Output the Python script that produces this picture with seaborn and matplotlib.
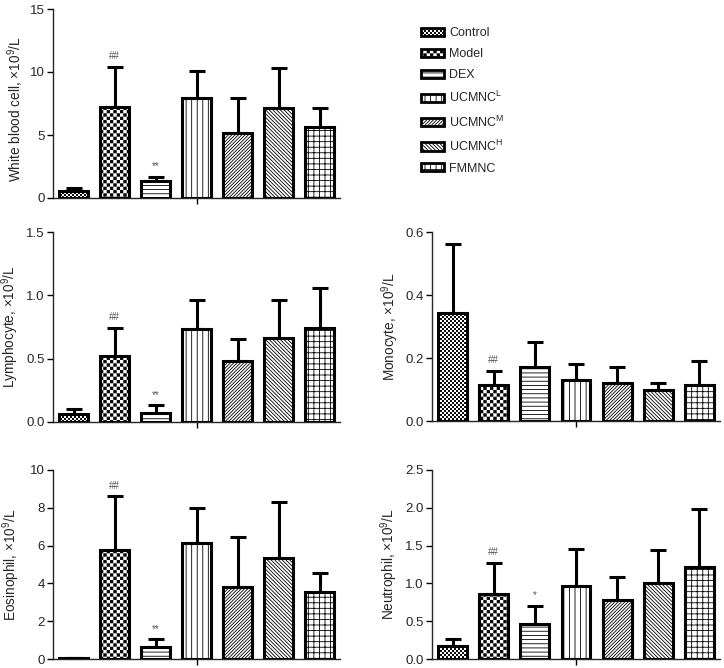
import numpy as np
import pandas as pd
import matplotlib
matplotlib.use("Agg")
import matplotlib.pyplot as plt
import matplotlib.hatch as mhatch
import matplotlib.patches as mpatches
from matplotlib.path import Path
import seaborn as sns
import warnings
warnings.filterwarnings("ignore")

# ---------------- data ----------------
groups = ["Control", "Model", "DEX", "UCMNC-L", "UCMNC-M", "UCMNC-H", "FMMNC"]
legend_labels = ["Control", "Model", "DEX", r"UCMNC$^{\mathrm{L}}$",
                 r"UCMNC$^{\mathrm{M}}$", r"UCMNC$^{\mathrm{H}}$", "FMMNC"]

wbc_mean = [0.58, 7.20, 1.32, 7.92, 5.15, 7.13, 5.62]
wbc_err = [0.21, 3.23, 0.34, 2.18, 2.82, 3.17, 1.54]
wbc_marks = ["", "##", "**", "", "", "", ""]

lym_mean = [0.060, 0.525, 0.074, 0.737, 0.480, 0.665, 0.742]
lym_err = [0.045, 0.217, 0.058, 0.227, 0.175, 0.300, 0.317]
lym_marks = ["", "##", "**", "", "", "", ""]

mono_mean = [0.342, 0.113, 0.172, 0.131, 0.120, 0.100, 0.113]
mono_err = [0.220, 0.047, 0.080, 0.049, 0.052, 0.021, 0.078]
mono_marks = ["", "##", "", "", "", "", ""]

eos_mean = [0.03, 5.77, 0.65, 6.16, 3.83, 5.36, 3.56]
eos_err = [0.00, 2.85, 0.39, 1.84, 2.64, 2.94, 1.01]
eos_marks = ["", "##", "**", "", "", "", ""]

neu_mean = [0.168, 0.855, 0.459, 0.961, 0.776, 1.010, 1.221]
neu_err = [0.092, 0.415, 0.246, 0.499, 0.309, 0.436, 0.763]
neu_marks = ["", "##", "*", "", "", "", ""]

wbc_ticks = [0, 5, 10, 15]
lym_ticks = [0.0, 0.5, 1.0, 1.5]
mono_ticks = [0.0, 0.2, 0.4, 0.6]
eos_ticks = [0, 2, 4, 6, 8, 10]
neu_ticks = [0.0, 0.5, 1.0, 1.5, 2.0, 2.5]

# ---------------- custom checkerboard hatch ----------------
class CheckerHatch(mhatch.HatchPatternBase):
    def __init__(self, hatch, density):
        self.n = hatch.count("c") * 10
        self.cells = [(i, j) for i in range(self.n) for j in range(self.n)
                      if (i + j) % 2 == 0]
        self.num_vertices = len(self.cells) * 5

    def set_vertices_and_codes(self, vertices, codes):
        s = 1.0 / self.n
        inset = 0.0045
        k = 0
        for i, j in self.cells:
            x0, y0 = i * s + inset, j * s + inset
            x1, y1 = (i + 1) * s - inset, (j + 1) * s - inset
            vertices[k:k + 5] = [(x0, y0), (x1, y0), (x1, y1), (x0, y1), (x0, y0)]
            codes[k:k + 5] = [Path.MOVETO, Path.LINETO, Path.LINETO,
                              Path.LINETO, Path.CLOSEPOLY]
            k += 5

mhatch._hatch_types.append(CheckerHatch)
mhatch._validate_hatch_pattern = lambda hatch: None

hatches = ["ccccc", "ccc", "----", "|||", "/" * 10, "\\" * 9, "+++"]

# ---------------- style ----------------
sns.set_style("ticks")
plt.rcParams["font.family"] = ["Liberation Sans", "DejaVu Sans"]
plt.rcParams["mathtext.fontset"] = "custom"
plt.rcParams["mathtext.rm"] = "Liberation Sans"
plt.rcParams["mathtext.it"] = "Liberation Sans:italic"
plt.rcParams["hatch.linewidth"] = 0.6
plt.rcParams["axes.linewidth"] = 1.0

fig = plt.figure(figsize=(7.24, 6.68), dpi=100)

W, H = 724.0, 668.0
def axpos(x0, y0, x1, y1):
    return [x0 / W, 1 - y1 / H, (x1 - x0) / W, (y1 - y0) / H]

panels = [
    (axpos(53, 9, 340, 198), wbc_mean, wbc_err, wbc_marks, wbc_ticks,
     r"White blood cell, ×10$^{9}$/L", "{:.0f}", -0.094, 0.47),
    (axpos(53, 232, 340, 422), lym_mean, lym_err, lym_marks, lym_ticks,
     r"Lymphocyte, ×10$^{9}$/L", "{:.1f}", -0.111, 0.5),
    (axpos(432, 232, 720, 421), mono_mean, mono_err, mono_marks, mono_ticks,
     r"Monocyte, ×10$^{9}$/L", "{:.1f}", -0.108, 0.5),
    (axpos(53, 470, 340, 659), eos_mean, eos_err, eos_marks, eos_ticks,
     r"Eosinophil, ×10$^{9}$/L", "{:.0f}", -0.108, 0.5),
    (axpos(432, 470, 720, 659), neu_mean, neu_err, neu_marks, neu_ticks,
     r"Neutrophil, ×10$^{9}$/L", "{:.1f}", -0.110, 0.5),
]

for pos, mean, err, marks, ticks, ylabel, fmt, labx, laby in panels:
    ax = fig.add_axes(pos)
    df = pd.DataFrame({"group": groups, "value": mean})
    sns.barplot(data=df, x="group", y="value", order=groups, color="white",
                saturation=1, edgecolor="black", linewidth=2.2, width=0.7,
                errorbar=None, ax=ax, zorder=3)
    for patch, h in zip(ax.patches, hatches):
        patch.set_hatch(h)
        patch.set_facecolor("white")
    xs = np.arange(len(groups))
    tops = np.array(mean) + np.array(err)
    ax.errorbar(xs, mean, yerr=[np.zeros(len(groups)), err], fmt="none",
                ecolor="black", elinewidth=2.2, capsize=5.5, capthick=2.2,
                zorder=2)
    for x, t, m in zip(xs, tops, marks):
        if m:
            ax.annotate(m, xy=(x, t), xytext=(0, 4), textcoords="offset points",
                        ha="center", va="bottom", fontsize=7, color="#555555")
    ax.set_xlim(-0.5, len(groups) - 0.5)
    ax.set_ylim(ticks[0], ticks[-1])
    ax.set_yticks(ticks)
    ax.set_yticklabels([fmt.format(t) for t in ticks], fontsize=9.5)
    ax.set_xticks([3])
    ax.set_xticklabels([""])
    ax.set_xlabel("")
    ax.set_ylabel(ylabel, fontsize=9.8)
    ax.yaxis.set_label_coords(labx, laby)
    ax.tick_params(axis="both", length=4, width=1.0, color="black", pad=2)
    sns.despine(ax=ax)

handles = [mpatches.Patch(facecolor="white", edgecolor="black", linewidth=2.0,
                          hatch=h) for h in hatches]
fig.legend(handles, legend_labels, loc="upper left",
           bbox_to_anchor=(410 / W, 1 - 16 / H), frameon=False, fontsize=9,
           handlelength=1.85, handleheight=0.62, handletextpad=0.4,
           labelspacing=0.72, borderpad=0.4)

fig.savefig("out.png", dpi=100)
